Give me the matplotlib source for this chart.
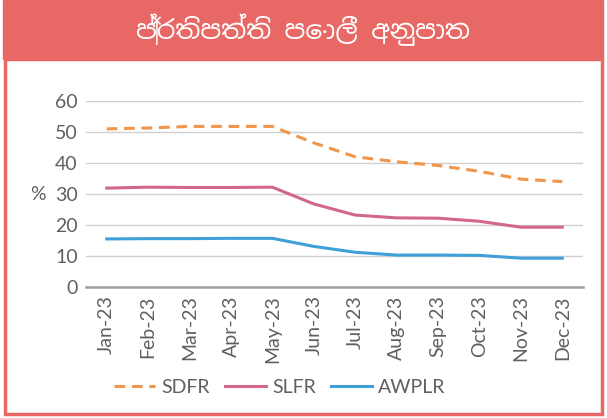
import matplotlib.pyplot as plt
from matplotlib.patches import Rectangle

months = ["Jan-23", "Feb-23", "Mar-23", "Apr-23", "May-23", "Jun-23",
          "Jul-23", "Aug-23", "Sep-23", "Oct-23", "Nov-23", "Dec-23"]
sdfr = [51.0, 51.3, 51.8, 51.8, 51.8, 46.5, 42.0, 40.4, 39.2, 37.3, 34.8, 34.0]
slfr = [31.9, 32.2, 32.1, 32.1, 32.2, 26.8, 23.2, 22.3, 22.2, 21.2, 19.3, 19.3]
awplr = [15.5, 15.6, 15.6, 15.7, 15.7, 13.1, 11.2, 10.3, 10.3, 10.2, 9.3, 9.3]
title = "ප්‍රතිපත්ති පොලී අනුපාත"

red = "#E86865"
grey = "#606060"

plt.rcParams['font.family'] = ['Lato', 'DejaVu Sans']

fig = plt.figure(figsize=(6.07, 4.18), dpi=100)

# header band and frame
fig.patches.append(Rectangle((3 / 607, 1 - 59 / 418), 600 / 607, 59 / 418,
                             transform=fig.transFigure, color=red, zorder=0))
fig.patches.append(Rectangle((4.5 / 607, 1 - 414 / 418), 597 / 607, 355 / 418,
                             transform=fig.transFigure, fill=False,
                             edgecolor=red, linewidth=2.5, zorder=0))
fig.text(0.5, 1 - 30 / 418, title, color="white", fontsize=19,
         fontweight="bold", ha="center", va="center",
         family=['Noto Sans Sinhala', 'Noto Sans', 'DejaVu Sans'])

ax = fig.add_axes([86 / 607, 1 - 287 / 418, 497 / 607, 186 / 418])
x = range(len(months))
ax.plot(x, sdfr, color="#F0954A", lw=2.2, ls=(0, (3.5, 2.2)), label="SDFR")
ax.plot(x, slfr, color="#D2668E", lw=2.2, label="SLFR", solid_joinstyle="round")
ax.plot(x, awplr, color="#3FA0D8", lw=2.2, label="AWPLR", solid_joinstyle="round")

ax.set_xlim(-0.5, 11.5)
ax.set_ylim(0, 60)
ax.set_yticks(range(0, 61, 10))
ax.set_xticks(list(x))
ax.set_xticklabels(months, rotation=90)
ax.grid(axis="y", color="#D0D0D0", lw=1)
ax.set_axisbelow(True)
for s in ["top", "right", "left"]:
    ax.spines[s].set_visible(False)
ax.spines["bottom"].set_color("#A0A0A0")
ax.spines["bottom"].set_linewidth(1.8)
ax.tick_params(axis="both", length=0, colors=grey, labelsize=14)
ax.tick_params(axis="y", pad=6)
ax.tick_params(axis="x", pad=6)
ax.set_ylabel("%", rotation=0, color=grey, fontsize=14, labelpad=12, va="center")

ax.legend(loc="upper center", bbox_to_anchor=(0.39, -0.40), ncol=3, frameon=False,
          fontsize=14, labelcolor=grey,
          handlelength=2.1, columnspacing=0.8, handletextpad=0.3)

fig.savefig("out.png", dpi=100)
